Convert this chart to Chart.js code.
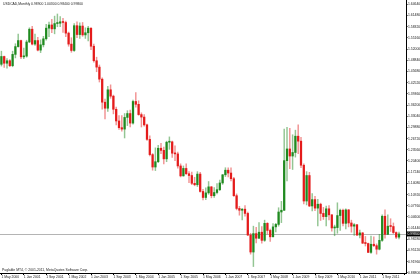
<!DOCTYPE html>
<html>
<head>
<meta charset="utf-8">
<script src="https://cdn.jsdelivr.net/npm/chart.js@4.4.0/dist/chart.umd.min.js"></script>
<style>
html, body { margin: 0; padding: 0; background: #fff; }
</style>
</head>
<body>
<canvas id="myChart" width="420" height="280"></canvas>
<script>
var symbol = 'USDCAD,Monthly';
var footer = 'Puglable MT4, \u00a9 2001-2011, MetaQuotes Software Corp.';

var dateLabels = ['1 May 2000', '1 Jan 2001', '1 Sep 2001', '1 May 2002', '1 Jan 2003', '1 Sep 2003',
    '1 May 2004', '1 Jan 2005', '1 Sep 2005', '1 May 2006', '1 Jan 2007', '1 Sep 2007',
    '1 May 2008', '1 Jan 2009', '1 Sep 2009', '1 May 2010', '1 Jan 2011', '1 Sep 2011'];

var priceTicks = [1.64640, 1.61480, 1.58320, 1.55160, 1.52000, 1.48840, 1.45680, 1.42520, 1.39360,
    1.36200, 1.33040, 1.29880, 1.26720, 1.23560, 1.20400, 1.17240, 1.14080, 1.10920, 1.07760,
    1.04600, 1.01440, 0.98280, 0.95120, 0.91960, 0.88800];

// monthly candles, May 2000 .. Mar 2012
var opens = [
    1.4770, 1.4990, 1.4800, 1.4870, 1.4730, 1.5050, 1.5270, 1.5440,
    1.4980, 1.5000, 1.5400, 1.5760, 1.5340, 1.5440, 1.5170, 1.5320, 1.5490, 1.5790, 1.5880, 1.5770,
    1.5920, 1.5930, 1.5970, 1.5950, 1.5650, 1.5340, 1.5160, 1.5860, 1.5610, 1.5850, 1.5600, 1.5660,
    1.5790, 1.5280, 1.4870, 1.4690, 1.4350, 1.3700, 1.3530, 1.4050, 1.3870, 1.3500, 1.3170, 1.2980,
    1.2940, 1.3270, 1.3380, 1.3110, 1.3720, 1.3640, 1.3350, 1.3280, 1.3060, 1.2650, 1.2220, 1.1870,
    1.2020, 1.2400, 1.2340, 1.2100, 1.2570, 1.2580, 1.2260, 1.2240, 1.1900, 1.1620, 1.1830, 1.1680,
    1.1630, 1.1410, 1.1370, 1.1670, 1.1180, 1.1010, 1.1140, 1.1310, 1.1060, 1.1150, 1.1230, 1.1420,
    1.1650, 1.1780, 1.1700, 1.1540, 1.1060, 1.0700, 1.0650, 1.0680, 1.0560, 0.9950, 0.9470, 0.9990,
    0.9860, 1.0030, 0.9800, 1.0280, 1.0080, 0.9900, 1.0180, 1.0250, 1.0600, 1.0650, 1.2050, 1.2380,
    1.2180, 1.2280, 1.2740, 1.2600, 1.1920, 1.0910, 1.1630, 1.0770, 1.0950, 1.0710, 1.0820, 1.0560,
    1.0470, 1.0690, 1.0520, 1.0150, 1.0160, 1.0500, 1.0650, 1.0280, 1.0660, 1.0290, 1.0200, 1.0240,
    0.9950, 1.0010, 0.9720, 0.9710, 0.9460, 0.9690, 0.9650, 0.9550, 0.9800, 1.0480, 0.9970, 1.0200,
    1.0190, 1.0020, 0.9890
];
var highs = [
    1.5140, 1.5000, 1.4930, 1.4900, 1.5140, 1.5350, 1.5620, 1.5450,
    1.5230, 1.5450, 1.5800, 1.5840, 1.5620, 1.5530, 1.5460, 1.5560, 1.5900, 1.5960, 1.6040, 1.6130,
    1.6190, 1.6120, 1.6070, 1.5990, 1.5680, 1.5520, 1.5920, 1.5970, 1.5940, 1.5950, 1.5800, 1.5840,
    1.5800, 1.5340, 1.4970, 1.4750, 1.4390, 1.3790, 1.4150, 1.4190, 1.3900, 1.3560, 1.3320, 1.3320,
    1.3380, 1.3460, 1.3480, 1.3760, 1.3970, 1.3740, 1.3400, 1.3350, 1.3080, 1.2750, 1.2250, 1.2410,
    1.2480, 1.2540, 1.2430, 1.2600, 1.2720, 1.2600, 1.2470, 1.2290, 1.1960, 1.1900, 1.1960, 1.1740,
    1.1730, 1.1580, 1.1740, 1.1720, 1.1240, 1.1280, 1.1460, 1.1320, 1.1290, 1.1400, 1.1500, 1.1660,
    1.1850, 1.1850, 1.1850, 1.1580, 1.1110, 1.0760, 1.0700, 1.0780, 1.0600, 1.0000, 1.0200, 1.0170,
    1.0300, 1.0190, 1.0370, 1.0300, 1.0120, 1.0270, 1.0280, 1.0720, 1.0900, 1.2940, 1.2990, 1.2960,
    1.2780, 1.2910, 1.3060, 1.2710, 1.1960, 1.1740, 1.1720, 1.1120, 1.1040, 1.0960, 1.0850, 1.0730,
    1.0770, 1.0780, 1.0530, 1.0230, 1.0860, 1.0680, 1.0680, 1.0690, 1.0670, 1.0370, 1.0270, 1.0250,
    1.0090, 1.0020, 0.9910, 0.9720, 0.9920, 0.9900, 0.9700, 0.9970, 1.0520, 1.0660, 1.0520, 1.0410,
    1.0290, 1.0040, 1.0030
];
var lows = [
    1.4720, 1.4680, 1.4660, 1.4700, 1.4700, 1.4950, 1.5250, 1.4930,
    1.4930, 1.4970, 1.5380, 1.5320, 1.5300, 1.5150, 1.5100, 1.5260, 1.5450, 1.5550, 1.5660, 1.5630,
    1.5830, 1.5830, 1.5670, 1.5550, 1.5280, 1.5110, 1.5130, 1.5520, 1.5500, 1.5560, 1.5500, 1.5430,
    1.5180, 1.4830, 1.4560, 1.4270, 1.3500, 1.3230, 1.3440, 1.3810, 1.3370, 1.3060, 1.2930, 1.2880,
    1.2690, 1.3040, 1.3000, 1.3080, 1.3560, 1.3330, 1.3000, 1.3020, 1.2620, 1.2180, 1.1780, 1.1770,
    1.1990, 1.2250, 1.1960, 1.2020, 1.2370, 1.2140, 1.2050, 1.1840, 1.1590, 1.1610, 1.1660, 1.1430,
    1.1370, 1.1340, 1.1320, 1.1160, 1.0940, 1.0950, 1.1100, 1.1000, 1.1010, 1.1110, 1.1200, 1.1380,
    1.1600, 1.1590, 1.1480, 1.1040, 1.0660, 1.0510, 1.0380, 1.0480, 0.9930, 0.9410, 0.9060, 0.9730,
    0.9850, 0.9720, 0.9770, 0.9980, 0.9770, 0.9900, 1.0040, 1.0200, 1.0300, 1.0640, 1.1480, 1.1820,
    1.1800, 1.2150, 1.2250, 1.1850, 1.0830, 1.0800, 1.0750, 1.0630, 1.0640, 1.0210, 1.0360, 1.0390,
    1.0210, 1.0380, 1.0060, 0.9930, 1.0000, 1.0080, 1.0210, 1.0120, 1.0180, 1.0030, 0.9940, 0.9930,
    0.9870, 0.9710, 0.9640, 0.9450, 0.9430, 0.9620, 0.9410, 0.9530, 0.9770, 0.9860, 0.9960, 1.0050,
    0.9990, 0.9850, 0.9840
];
var closes = [
    1.4990, 1.4800, 1.4870, 1.4730, 1.5050, 1.5270, 1.5440, 1.4980,
    1.5000, 1.5400, 1.5760, 1.5340, 1.5440, 1.5170, 1.5320, 1.5490, 1.5790, 1.5880, 1.5770, 1.5920,
    1.5930, 1.5970, 1.5950, 1.5650, 1.5340, 1.5160, 1.5860, 1.5610, 1.5850, 1.5600, 1.5660, 1.5790,
    1.5280, 1.4870, 1.4690, 1.4350, 1.3700, 1.3530, 1.4050, 1.3870, 1.3500, 1.3170, 1.2980, 1.2940,
    1.3270, 1.3380, 1.3110, 1.3720, 1.3640, 1.3350, 1.3280, 1.3060, 1.2650, 1.2220, 1.1870, 1.2020,
    1.2400, 1.2340, 1.2100, 1.2570, 1.2580, 1.2260, 1.2240, 1.1900, 1.1620, 1.1830, 1.1680, 1.1630,
    1.1410, 1.1370, 1.1670, 1.1180, 1.1010, 1.1140, 1.1310, 1.1060, 1.1150, 1.1230, 1.1420, 1.1650,
    1.1780, 1.1700, 1.1540, 1.1060, 1.0700, 1.0650, 1.0680, 1.0560, 0.9950, 0.9470, 0.9990, 0.9860,
    1.0030, 0.9800, 1.0280, 1.0080, 0.9900, 1.0180, 1.0250, 1.0600, 1.0650, 1.2050, 1.2380, 1.2180,
    1.2280, 1.2740, 1.2600, 1.1920, 1.0910, 1.1630, 1.0770, 1.0950, 1.0710, 1.0820, 1.0560, 1.0470,
    1.0690, 1.0520, 1.0150, 1.0160, 1.0500, 1.0650, 1.0280, 1.0660, 1.0290, 1.0200, 1.0240, 0.9950,
    1.0010, 0.9720, 0.9710, 0.9460, 0.9690, 0.9650, 0.9550, 0.9800, 1.0480, 0.9970, 1.0200, 1.0190,
    1.0020, 0.9890, 0.9980
];

// one category per month, plus a little empty room on the right like MT4's chart shift
var monthNames = ['Jan', 'Feb', 'Mar', 'Apr', 'May', 'Jun', 'Jul', 'Aug', 'Sep', 'Oct', 'Nov', 'Dec'];
var months = [];
for (var i = 0; i < 145; i++) {
    months.push(monthNames[(4 + i) % 12] + ' ' + (2000 + Math.floor((4 + i) / 12)));
}

var upColor = '#1f8a1f', downColor = '#e41b1b';
var bodyColors = opens.map(function (o, i) { return closes[i] >= o ? upColor : downColor; });
var wickColors = opens.map(function (o, i) { return closes[i] >= o ? 'rgba(40,140,40,0.5)' : 'rgba(228,40,40,0.5)'; });

var tinyFont = { family: 'Liberation Sans', size: 3.4 };

var mt4Overlay = {
    id: 'mt4Overlay',
    beforeDatasetsDraw: function (chart) {
        var ctx = chart.ctx, area = chart.chartArea;
        var y = Math.round(chart.scales.y.getPixelForValue(closes[closes.length - 1])) + 0.5;
        ctx.save();
        ctx.strokeStyle = '#b4b4b4';
        ctx.lineWidth = 1;
        ctx.beginPath();
        ctx.moveTo(area.left, y);
        ctx.lineTo(area.right, y);
        ctx.stroke();
        ctx.restore();
    },
    afterDraw: function (chart) {
        var ctx = chart.ctx, area = chart.chartArea;
        var n = closes.length - 1;
        var last = closes[n];
        var y = chart.scales.y.getPixelForValue(last);
        ctx.save();
        ctx.font = '3.4px "Liberation Sans"';
        ctx.textBaseline = 'middle';
        ctx.fillStyle = '#222';
        ctx.fillText(symbol + ' ' + opens[n].toFixed(5) + ' ' + highs[n].toFixed(5) + ' ' +
            lows[n].toFixed(5) + ' ' + last.toFixed(5), 3, 4.5);
        ctx.fillText(footer, 2, area.bottom - 3);
        ctx.fillStyle = '#000';
        ctx.fillRect(area.right, y - 2.5, 420 - area.right, 5);
        ctx.fillStyle = '#fff';
        ctx.fillText(last.toFixed(5), area.right + 1.5, y);
        ctx.restore();
    }
};

var ctx = document.getElementById('myChart').getContext('2d');
var myChart = new Chart(ctx, {
    type: 'bar',
    data: {
        labels: months,
        datasets: [{
            label: 'Body',
            data: opens.map(function (o, i) { return [o, closes[i]]; }),
            backgroundColor: bodyColors,
            borderWidth: 0,
            barThickness: 1.6,
            minBarLength: 1,
            grouped: false
        }, {
            label: 'Wick',
            data: lows.map(function (l, i) { return [l, highs[i]]; }),
            backgroundColor: wickColors,
            borderWidth: 0,
            barThickness: 0.8,
            grouped: false
        }]
    },
    options: {
        responsive: false,
        animation: false,
        layout: { padding: 0 },
        plugins: {
            legend: { display: false },
            tooltip: { enabled: false },
            title: { display: false }
        },
        scales: {
            x: {
                offset: true,
                grid: {
                    offset: false,
                    drawOnChartArea: false,
                    tickLength: 2,
                    color: function (c) { return c.index % 8 === 0 ? '#000' : 'rgba(0,0,0,0)'; }
                },
                border: { display: true, color: '#000', width: 1 },
                ticks: {
                    autoSkip: false,
                    maxRotation: 0,
                    minRotation: 0,
                    align: 'start',
                    padding: 0,
                    color: '#222',
                    font: tinyFont,
                    callback: function (v, i) {
                        return i % 8 === 0 && dateLabels[i / 8] ? dateLabels[i / 8] : '';
                    }
                },
                afterFit: function (scale) {
                    scale.height = 7;
                    scale.paddingLeft = 0;
                    scale.paddingRight = 0;
                }
            },
            y: {
                position: 'right',
                min: 0.8878,
                max: 1.6585,
                grid: { drawOnChartArea: false, tickLength: 1.5, color: '#000' },
                border: { display: true, color: '#000', width: 1 },
                ticks: {
                    padding: 0.5,
                    color: '#222',
                    font: tinyFont,
                    autoSkip: false,
                    callback: function (v) { return Number(v).toFixed(5); }
                },
                afterBuildTicks: function (scale) {
                    scale.ticks = priceTicks.map(function (v) { return { value: v }; });
                },
                afterFit: function (scale) {
                    scale.width = 14;
                    scale.paddingTop = 0;
                    scale.paddingBottom = 0;
                }
            }
        }
    },
    plugins: [mt4Overlay]
});
</script>
</body>
</html>
